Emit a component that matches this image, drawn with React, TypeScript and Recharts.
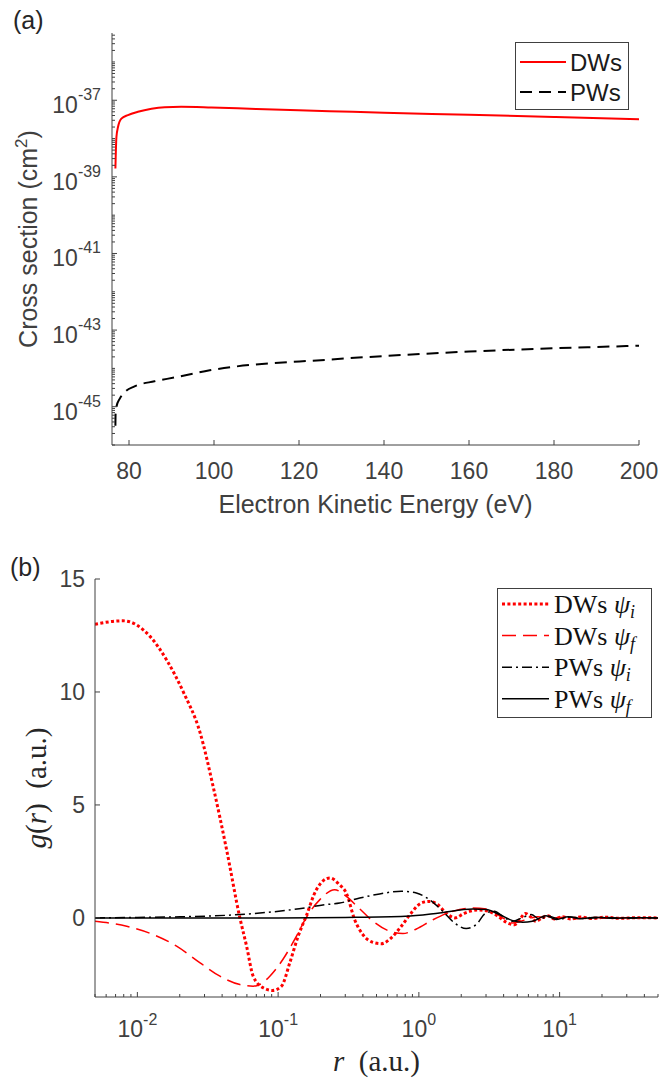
import React from 'react';
import { LineChart, Line, XAxis, YAxis, Legend } from 'recharts';

const SANS = '"Liberation Sans", Arial, sans-serif';
const SERIF = '"Liberation Serif", "DejaVu Serif", serif';
const AXIS = '#404040';
const INK = '#262626';

// (a) cross section vs electron kinetic energy
const energyDW = [76.8, 77.04, 77.41, 78.21, 79.76, 82.1, 85.3, 88.4, 92.3, 99.4, 110, 127.2, 140, 160, 180, 200];
const sigmaDW = [1.66e-39, 1.1e-38, 2.0e-38, 3.3e-38, 4.1e-38, 5.0e-38, 6.0e-38, 6.6e-38, 6.8e-38, 6.5e-38, 5.9e-38, 5.2e-38, 4.7e-38, 4.2e-38, 3.65e-38, 3.2e-38];
const energyPW = [76.8, 76.85, 77.04, 77.8, 79.0, 81.3, 86.0, 90.75, 99.0, 127.2, 140, 160, 200];
const sigmaPW = [3.2e-46, 6.6e-46, 1.0e-45, 1.6e-45, 2.4e-45, 3.4e-45, 4.6e-45, 5.8e-45, 8.9e-45, 1.7e-44, 2.1e-44, 2.75e-44, 3.9e-44];
const energyTicks = [80, 100, 120, 140, 160, 180, 200];
const sigmaLabelled = [1e-45, 1e-43, 1e-41, 1e-39, 1e-37];

// (b) radial functions g(r)
const rDWi = [0.005, 0.0079, 0.0123, 0.0162, 0.0212, 0.0279, 0.0347, 0.043, 0.0535, 0.0597, 0.0665, 0.0783, 0.091, 0.1057, 0.121, 0.1387, 0.158, 0.187, 0.233, 0.273, 0.305, 0.35, 0.4, 0.472, 0.541, 0.637, 0.75, 0.883, 1.04, 1.19, 1.36, 1.56, 1.8, 2.1, 2.6, 3.1, 3.6, 4.2, 4.8, 5.3, 5.7, 6.2, 6.8, 7.5, 8.2, 9.2, 10.5, 12, 14, 17, 21, 27, 35, 50];
const gDWi = [13.0, 13.15, 12.46, 11.4, 10.0, 8.2, 5.76, 3.03, 0.0, -1.25, -2.58, -3.09, -3.21, -3.02, -1.99, -0.81, 0.07, 1.25, 1.77, 1.47, 1.1, -0.08, -0.74, -1.08, -1.14, -0.88, -0.37, 0.22, 0.66, 0.73, 0.59, 0.22, 0.0, 0.2, 0.35, 0.3, 0.1, -0.2, -0.3, 0.0, 0.2, 0.05, -0.15, 0.0, 0.1, -0.05, 0.05, -0.05, 0.04, -0.03, 0.03, -0.02, 0.01, 0];
const rDWf = [0.005, 0.0084, 0.013, 0.019, 0.0279, 0.0386, 0.0535, 0.0665, 0.074, 0.0873, 0.108, 0.135, 0.158, 0.198, 0.252, 0.305, 0.38, 0.472, 0.62, 0.77, 0.96, 1.26, 1.74, 2.41, 3.17, 3.94, 4.64, 5.78, 7, 8.5, 10, 13, 17, 22, 30, 50];
const gDWf = [-0.15, -0.37, -0.74, -1.25, -1.99, -2.58, -2.95, -3.02, -2.95, -2.58, -1.84, -0.81, 0, 0.81, 1.25, 0.95, 0.4, -0.15, -0.59, -0.69, -0.49, -0.08, 0.29, 0.44, 0.37, 0, -0.22, -0.08, 0.05, -0.05, 0.03, -0.04, 0.03, -0.02, 0.01, 0];
const rPWi = [0.005, 0.01, 0.02, 0.0535, 0.128, 0.22, 0.274, 0.38, 0.526, 0.75, 0.96, 1.19, 1.48, 1.79, 2.17, 2.55, 3.0, 3.44, 3.94, 4.64, 5.4, 6.27, 7.2, 8.3, 10, 12, 15, 20, 28, 50];
const gPWi = [0, 0.02, 0.05, 0.15, 0.37, 0.59, 0.66, 0.88, 1.06, 1.18, 1.1, 0.81, 0.29, -0.22, -0.47, -0.3, 0.22, 0.29, 0.07, -0.15, 0.0, 0.15, -0.05, 0.08, -0.05, 0.04, -0.03, 0.02, -0.01, 0];
const rPWf = [0.005, 0.1, 0.3, 0.8, 1.4, 2.41, 3.0, 3.74, 4.64, 5.47, 6.4, 8.0, 9.5, 11.5, 14, 18, 24, 32, 50];
const gPWf = [0, 0, 0.02, 0.07, 0.22, 0.4, 0.37, 0.15, -0.12, -0.19, -0.15, 0.1, -0.07, 0.05, -0.04, 0.03, -0.02, 0.01, 0];
const rLabelled = [0.01, 0.1, 1, 10];
const gTicks = [0, 5, 10, 15];

const zip = (xs: number[], ys: number[]) => xs.map((x, i) => ({ x, y: ys[i] }));

// 1..9 x 10^n inside [lo, hi]
function logTicks(lo: number, hi: number) {
  const out: number[] = [];
  for (let e = Math.floor(Math.log10(lo)); e <= Math.ceil(Math.log10(hi)); e++) {
    for (let k = 1; k < 10; k++) {
      const v = k * Math.pow(10, e);
      if (v >= lo * 0.9999 && v <= hi * 1.0001) out.push(v);
    }
  }
  return out;
}
const inList = (list: number[]) => (v: number) => list.some((m) => Math.abs(Math.log10(m) - Math.log10(v)) < 1e-6);
const expOf = (v: number) => Math.round(Math.log10(v));

type Side = 'left' | 'right' | 'top' | 'bottom';
type TickLabel = (v: number, x: number, y: number) => React.ReactNode;

// inward MATLAB-style tick marks; tickSize/tickMargin are 0 so x,y sit on the axis line
function axisTick(side: Side, major: (v: number) => boolean, label?: TickLabel) {
  return (props: any) => {
    const { x, y, payload } = props;
    const v = payload.value;
    const len = major(v) ? 5 : 3;
    const dx = side === 'left' ? len : side === 'right' ? -len : 0;
    const dy = side === 'bottom' ? -len : side === 'top' ? len : 0;
    return (
      <g>
        <line x1={x} y1={y} x2={x + dx} y2={y + dy} stroke={AXIS} strokeWidth={1} />
        {label && major(v) ? label(v, x, y) : null}
      </g>
    );
  };
}

const sigmaDomain: [number, number] = [1e-46, 5.7e-36];
const sigmaTicks = logTicks(sigmaDomain[0], sigmaDomain[1]);
const rDomain: [number, number] = [0.005, 50];
const rTicks = logTicks(rDomain[0], rDomain[1]);

const seriesA = [
  { name: 'DWs', data: zip(energyDW, sigmaDW), color: '#ff0000', width: 2, dash: undefined as string | undefined },
  { name: 'PWs', data: zip(energyPW, sigmaPW), color: '#000000', width: 2, dash: '12 7' },
];

const seriesB = [
  { name: 'DWs', sub: 'i', data: zip(rDWi, gDWi), color: '#ff0000', width: 3, dash: '3 2.4' as string | undefined },
  { name: 'DWs', sub: 'f', data: zip(rDWf, gDWf), color: '#ff0000', width: 1.5, dash: '14 7' },
  { name: 'PWs', sub: 'i', data: zip(rPWi, gPWi), color: '#000000', width: 1.5, dash: '10 4 2 4' },
  { name: 'PWs', sub: 'f', data: zip(rPWf, gPWf), color: '#000000', width: 1.5, dash: undefined },
];

function LegendA() {
  return (
    <svg width={114} height={68} style={{ display: 'block' }}>
      <rect x={0.5} y={0.5} width={113} height={67} fill="#fff" stroke={AXIS} />
      {seriesA.map((s, i) => (
        <g key={s.name}>
          <line x1={5} x2={51} y1={20 + i * 30} y2={20 + i * 30} stroke={s.color} strokeWidth={s.width} strokeDasharray={s.dash} />
          <text x={55} y={28.5 + i * 30} fontFamily={SANS} fontSize={24} fill="#1a1a1a">{s.name}</text>
        </g>
      ))}
    </svg>
  );
}

function LegendB() {
  return (
    <svg width={155} height={130} style={{ display: 'block' }}>
      <rect x={0.5} y={0.5} width={154} height={129} fill="#fff" stroke={AXIS} />
      {seriesB.map((s, i) => {
        const yy = 16 + i * 31.6;
        return (
          <g key={i}>
            <line x1={5} x2={52} y1={yy} y2={yy} stroke={s.color} strokeWidth={s.width} strokeDasharray={s.dash} />
            <text x={57} y={yy + 9} fontFamily={SERIF} fontSize={26} fill="#111">
              {s.name}{'\u00a0'}
              <tspan fontStyle="italic">ψ</tspan>
              <tspan fontStyle="italic" fontSize={18} dy={5}>{s.sub}</tspan>
            </text>
          </g>
        );
      })}
    </svg>
  );
}

function PanelA() {
  return (
    <LineChart width={659} height={540} margin={{ top: 33, right: 20, bottom: 0, left: 0 }}>
      <XAxis
        xAxisId="b" type="number" dataKey="x" domain={[76, 200]} ticks={energyTicks} interval={0}
        height={95} tickSize={0} tickMargin={0} tickLine={false} axisLine={{ stroke: AXIS }} allowDataOverflow
        tick={axisTick('bottom', () => true, (v, x, y) => (
          <text x={x} y={y + 34} textAnchor="middle" fontFamily={SANS} fontSize={23} fill={AXIS}>{v}</text>
        ))}
        label={() => (
          <text x={375.5} y={513} textAnchor="middle" fontFamily={SANS} fontSize={25} fill={AXIS}>Electron Kinetic Energy (eV)</text>
        )}
      />
      <XAxis
        xAxisId="t" orientation="top" type="number" dataKey="x" domain={[76, 200]} ticks={energyTicks} interval={0}
        height={0} tickSize={0} tickMargin={0} tickLine={false} axisLine={{ stroke: AXIS }} allowDataOverflow
        tick={axisTick('top', () => true)}
      />
      <YAxis
        yAxisId="l" type="number" scale="log" domain={sigmaDomain} ticks={sigmaTicks} interval={0}
        width={112} tickSize={0} tickMargin={0} tickLine={false} axisLine={{ stroke: AXIS }} allowDataOverflow
        tick={axisTick('left', inList(sigmaLabelled), (v, x, y) => (
          <text x={x - 11} y={y + 13} textAnchor="end" fontFamily={SANS} fill={AXIS}>
            <tspan fontSize={23}>10</tspan>
            <tspan fontSize={16} dy={-13}>{expOf(v)}</tspan>
          </text>
        ))}
        label={() => (
          <g>
            <text x={13} y={29} fontFamily={SANS} fontSize={25} fill={INK}>(a)</text>
            <text x={37} y={239} transform="rotate(-90 37 239)" textAnchor="middle" fontFamily={SANS} fontSize={25} fill={AXIS}>
              Cross section (cm<tspan fontSize={17} dy={-10}>2</tspan><tspan dy={10}>)</tspan>
            </text>
          </g>
        )}
      />
      <YAxis
        yAxisId="r" orientation="right" type="number" scale="log" domain={sigmaDomain} ticks={sigmaTicks} interval={0}
        width={0} tickSize={0} tickMargin={0} tickLine={false} axisLine={{ stroke: AXIS }} allowDataOverflow
        tick={axisTick('right', inList(sigmaLabelled))}
      />
      <Legend
        layout="vertical" align="center" verticalAlign="middle"
        wrapperStyle={{ left: 515, top: 42, width: 114, height: 68 }}
        content={() => <LegendA />}
      />
      {seriesA.map((s) => (
        <Line
          key={s.name} xAxisId="b" yAxisId="l" data={s.data} dataKey="y" name={s.name} type="monotone"
          stroke={s.color} strokeWidth={s.width} strokeDasharray={s.dash} dot={false} activeDot={false}
          isAnimationActive={false}
        />
      ))}
    </LineChart>
  );
}

function PanelB() {
  return (
    <LineChart width={659} height={542} margin={{ top: 39, right: 1, bottom: 0, left: 0 }}>
      <XAxis
        xAxisId="b" type="number" scale="log" dataKey="x" domain={rDomain} ticks={rTicks} interval={0}
        height={85} tickSize={0} tickMargin={0} tickLine={false} axisLine={{ stroke: AXIS }} allowDataOverflow
        tick={axisTick('bottom', inList(rLabelled), (v, x, y) => (
          <text x={x} y={y + 40} textAnchor="middle" fontFamily={SANS} fill={AXIS}>
            <tspan fontSize={23}>10</tspan>
            <tspan fontSize={16} dy={-12}>{expOf(v)}</tspan>
          </text>
        ))}
        label={() => (
          <text x={376.5} y={531} textAnchor="middle" fontFamily={SERIF} fontSize={29} fill={INK}>
            <tspan fontStyle="italic">r</tspan>{'\u00a0\u00a0'}(a.u.)
          </text>
        )}
      />
      <XAxis
        xAxisId="t" orientation="top" type="number" scale="log" dataKey="x" domain={rDomain} ticks={rTicks} interval={0}
        height={0} tickSize={0} tickMargin={0} tickLine={false} axisLine={{ stroke: AXIS }} allowDataOverflow
        tick={axisTick('top', inList(rLabelled))}
      />
      <YAxis
        yAxisId="l" type="number" domain={[-3.5, 15]} ticks={gTicks} interval={0}
        width={95} tickSize={0} tickMargin={0} tickLine={false} axisLine={{ stroke: AXIS }} allowDataOverflow
        tick={axisTick('left', () => true, (v, x, y) => (
          <text x={x - 10} y={y + 8} textAnchor="end" fontFamily={SANS} fontSize={23} fill={AXIS}>{v}</text>
        ))}
        label={() => (
          <g>
            <text x={10} y={36} fontFamily={SANS} fontSize={25} fill={INK}>(b)</text>
            <text x={46} y={248} transform="rotate(-90 46 248)" textAnchor="middle" fontFamily={SERIF} fontSize={29} fill={INK}>
              <tspan fontStyle="italic">g</tspan>(<tspan fontStyle="italic">r</tspan>){'\u00a0\u00a0'}(a.u.)
            </text>
          </g>
        )}
      />
      <YAxis
        yAxisId="r" orientation="right" type="number" domain={[-3.5, 15]} ticks={gTicks} interval={0}
        width={0} tickSize={0} tickMargin={0} tickLine={false} axisLine={{ stroke: AXIS }} allowDataOverflow
        tick={axisTick('right', () => true)}
      />
      <Legend
        layout="vertical" align="center" verticalAlign="middle"
        wrapperStyle={{ left: 497, top: 48, width: 155, height: 130 }}
        content={() => <LegendB />}
      />
      {seriesB.map((s, i) => (
        <Line
          key={i} xAxisId="b" yAxisId="l" data={s.data} dataKey="y" name={`${s.name} ${s.sub}`} type="monotone"
          stroke={s.color} strokeWidth={s.width} strokeDasharray={s.dash} dot={false} activeDot={false}
          isAnimationActive={false}
        />
      ))}
    </LineChart>
  );
}

export default function App() {
  return (
    <div style={{ position: 'absolute', left: 0, top: 0, width: 659, height: 1082, background: '#fff' }}>
      <div style={{ position: 'absolute', left: 0, top: 0 }}>
        <PanelA />
      </div>
      <div style={{ position: 'absolute', left: 0, top: 540 }}>
        <PanelB />
      </div>
    </div>
  );
}
